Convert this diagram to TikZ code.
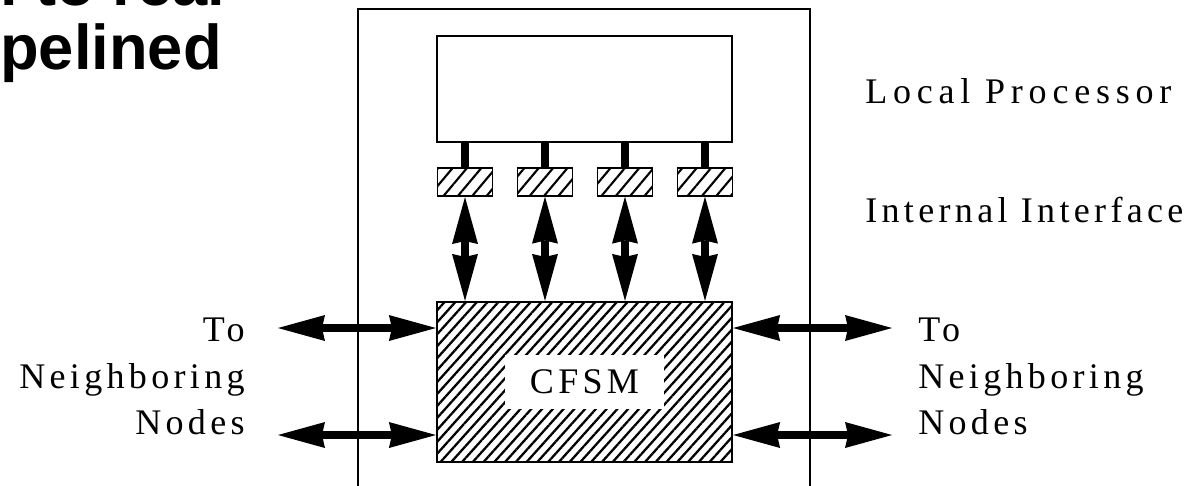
\documentclass[tikz,border=0pt]{standalone}
\usepackage{fontspec}
\usetikzlibrary{arrows.meta,patterns.meta}
\newfontfamily\lblfont[LetterSpace=12]{Liberation Serif}
\newfontfamily\titlefont{Liberation Sans}
\begin{document}
\begin{tikzpicture}
                [x=0.02cm, y=-0.02cm,
                box/.style={rectangle,draw=black,line width=0.7pt,inner sep=0pt},
                port/.style={box,minimum width=1.1cm,minimum height=0.56cm,
                        pattern={Lines[angle=50,distance=0.22cm,line width=1.2pt]}},
                arrow/.style={<->,>={Stealth[length=0.94cm,width=0.52cm,inset=0.06cm,line width=0pt]},line width=0.16cm},
                stem/.style={line width=0.16cm},
                lbl/.style={font=\lblfont\fontsize{20.5}{26.4}\selectfont,inner sep=0pt},
                ]
                \path[use as bounding box,clip] (0,0) rectangle (1195,485);
                \node[font=\titlefont\bfseries\fontsize{36}{36.3}\selectfont,align=left,anchor=south west,inner sep=0pt] (heading) at (0,83) {l to real\\pelined};
                \draw[line width=0.7pt] (358,9) rectangle (810,530);
                \node[box,minimum width=5.9cm,minimum height=2.12cm] (proc) at (584.5,89) {};
                \node[box,minimum width=5.9cm,minimum height=3.2cm,
                        pattern={Lines[angle=48,distance=0.16cm,line width=1.3pt]}] (cfsm) at (584.5,382) {};
                \node[lbl,fill=white,minimum width=3.2cm,minimum height=1.08cm] (cfsmtxt) at (cfsm.center) {CFSM};
                \foreach \i/\x in {1/465,2/545,3/625,4/705}{
                        \node[port] (ifc\i) at (\x,182) {};
                        \draw[stem] (ifc\i.north |- proc.south) -- (ifc\i.north);
                        \draw[arrow] (ifc\i.south) -- (ifc\i.south |- cfsm.north);
                }
                \coordinate (lt) at (278,328);	\coordinate (lb) at (278,435);
                \coordinate (rt) at (892,328);	\coordinate (rb) at (892,435);
                \draw[arrow] (lt) -- (lt -| cfsm.west);
                \draw[arrow] (lb) -- (lb -| cfsm.west);
                \draw[arrow] (rt -| cfsm.east) -- (rt);
                \draw[arrow] (rb -| cfsm.east) -- (rb);
                \node[lbl,anchor=base west] (proclbl) at (865,103) {\addfontfeature{LetterSpace=16}Local Processor};
                \node[lbl,anchor=base west] (ifclbl) at (865,222) {Internal Interface};
                \node[lbl,align=right,anchor=north east] (leftnb) at (245,318) {To\\Neighboring\\Nodes};
                \node[lbl,align=left,anchor=north west] (rightnb) at (918,318) {To\\Neighboring\\Nodes};
            \end{tikzpicture}
\end{document}
